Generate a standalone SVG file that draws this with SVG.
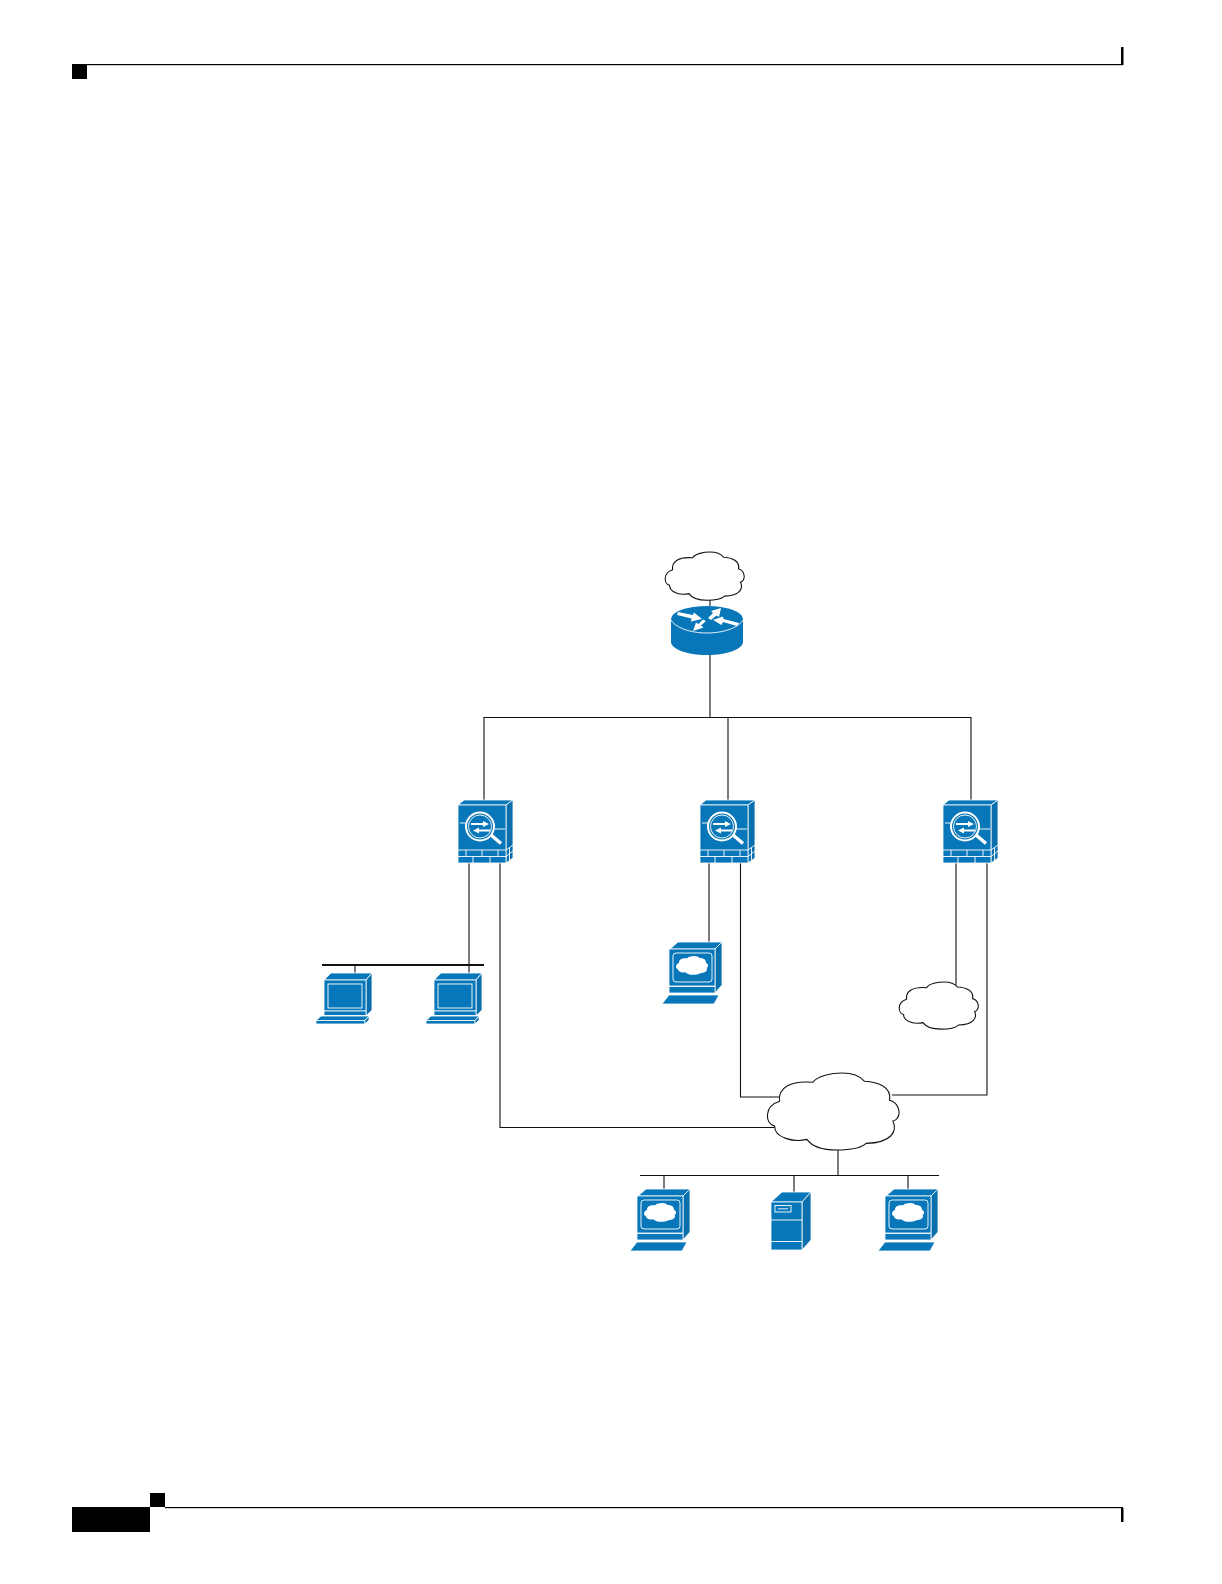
<svg xmlns="http://www.w3.org/2000/svg" xmlns:xlink="http://www.w3.org/1999/xlink" width="1222" height="1584" viewBox="0 0 1222 1584">
<style>
.bg{fill:#fff}
.blk{fill:#000}
.b{fill:#0877b9;stroke:#fff;stroke-width:.8;stroke-linejoin:round}
.d{fill:#0a70ad;stroke:#fff;stroke-width:.8;stroke-linejoin:round}
.w{fill:none;stroke:#fff;stroke-width:.9}
.w2{fill:none;stroke:#fff;stroke-width:2}
.wf{fill:#fff;stroke:none}
.cl{fill:#fff;stroke:#111;stroke-width:1.100}
.cw{fill:#fff;stroke:none}
.ln{fill:none;stroke:#111;stroke-width:1.100}
.ba{fill:none;stroke:#111;stroke-width:2}
</style>
<defs>
<path id="cloud" vector-effect="non-scaling-stroke" d="M38 85C32 45 70 22 138 28C150 8 195 0 225 0C255 0 280 10 293 25C330 27 375 40 368 82C395 88 402 120 392 135C388 142 384 144 378 145C392 175 375 210 298 212C280 228 240 232 210 232C170 232 135 222 120 200C80 210 22 195 23 160C-5 155 -12 100 38 85Z"/>
<g id="firewall">
<path class="b" d="M0 5L6 0H55L48 5Z"/>
<path class="d" d="M48 5L55 0V58L48 63Z"/>
<rect class="b" x="0" y="5" width="48" height="58"/>
<path class="w" d="M0 50H48M0 56.500H48M8 50V56.500M24 50V56.500M40 50V56.500M15 56.500V63M32 56.500V63M48 50L55 45M48 56.500L55 51M51.500 48V54M51.500 54V60"/>
<path class="w" d="M2 23H8M36 29H47"/>
<circle class="w2" cx="22" cy="26.500" r="14"/>
<circle class="w" cx="22" cy="26.500" r="11.500"/>
<path d="M33 35L43 43.500" fill="none" stroke="#fff" stroke-width="3.500"/>
<path class="wf" d="M13 23H25V21L31 24L25 27V25H13ZM32 29.500H21V27.500L15 30.500L21 33.500V31.500H32Z"/>
</g>
<g id="pc">
<path class="b" d="M8 7L15 0H56L50 7Z"/>
<path class="d" d="M50 7L56 0V37L50 43Z"/>
<rect class="b" x="8" y="7" width="42" height="31"/>
<rect class="w" x="12" y="11" width="34" height="24"/>
<rect class="b" x="8" y="38" width="42" height="4.500"/>
<path class="b" d="M0 47.500L5 43H53L49 47.500Z"/>
<path class="b" d="M0 47.500H49V51H0Z"/>
<path class="d" d="M49 47.500L53 43V47L49 51Z"/>
</g>
<g id="terminal">
<path class="b" d="M8 7L16 0H60L53 7Z"/>
<path class="d" d="M53 7L60 0V43L53 51Z"/>
<rect class="b" x="7" y="7" width="46" height="37"/>
<rect class="w" x="11" y="11" width="39" height="29" rx="3"/>
<use xlink:href="#cloud" href="#cloud" class="cw" transform="translate(14 14) scale(0.081)"/>
<rect class="b" x="7" y="44.500" width="46" height="6.500"/>
<path class="b" d="M0 62L7 53H57L52 62Z"/>
</g>
</defs>
<rect class="bg" width="1222" height="1584"/>
<g id="page-frame">
<rect class="blk" x="72" y="64" width="15" height="15"/>
<rect class="blk" x="87" y="64" width="1036" height="1.200"/>
<rect class="blk" x="1121" y="47" width="2.500" height="18"/>
<rect class="blk" x="72" y="1507" width="78" height="25"/>
<rect class="blk" x="150" y="1493" width="15" height="14"/>
<rect class="blk" x="165" y="1507" width="958" height="1.200"/>
<rect class="blk" x="1121" y="1508" width="2.500" height="14"/>
</g>
<g id="connectors">
<path class="ln" d="M710 598V606M710 655V717.500M484 800V717.500H971V800M728 717.500V800"/>
<path class="ln" d="M469 863V973M500 863V1127.500H776M709 863V942M740.500 863V1097H780M956 863V985M987 863V1095H892"/>
<path class="ba" d="M322 965H484"/>
<path class="ln" d="M355 965V973"/>
<path class="ln" d="M838 1149V1175.500M640 1175.500H939M664 1175.500V1189M794 1175.500V1192M908 1175.500V1189"/>
</g>
<g id="cloud-top"><use xlink:href="#cloud" href="#cloud" class="cl" transform="translate(665 552) scale(0.2 0.208)"/></g>
<g id="router" transform="translate(671 606)">
<path d="M0 13V36C0 43 16 49 36 49S72 43 72 36V13Z" fill="#0877b9"/>
<ellipse cx="36" cy="13" rx="36" ry="13" fill="#0877b9"/>
<path class="w" d="M0 14C4 21 18 27 36 27S68 21 72 14"/>
<path class="wf" d="M6 9L7 6L22 9L23 6.500L31 13L20 15.500L20.500 12.500ZM68 17L66 20L52 16L50.500 19L42 14L52 10.500L52.500 13ZM37 12L42 7L40 5L50 2L48 11L45.500 9.500L40 14ZM35 15L30 19.500L32.500 21.500L22 25L25 16.500L27.500 18L32 13.500Z"/>
</g>
<g id="firewall-1"><use xlink:href="#firewall" href="#firewall" x="458" y="800"/></g>
<g id="firewall-2"><use xlink:href="#firewall" href="#firewall" x="700" y="800"/></g>
<g id="firewall-3"><use xlink:href="#firewall" href="#firewall" x="943" y="800"/></g>
<g id="pc-1"><use xlink:href="#pc" href="#pc" x="316" y="973"/></g>
<g id="pc-2"><use xlink:href="#pc" href="#pc" x="426" y="973"/></g>
<g id="terminal-1"><use xlink:href="#terminal" href="#terminal" x="662" y="942"/></g>
<g id="cloud-right"><use xlink:href="#cloud" href="#cloud" class="cl" transform="translate(899 982) scale(0.2 0.203)"/></g>
<g id="cloud-center"><use xlink:href="#cloud" href="#cloud" class="cl" transform="translate(767 1073) scale(0.333 0.332)"/></g>
<g id="terminal-2"><use xlink:href="#terminal" href="#terminal" x="630" y="1189"/></g>
<g id="server" transform="translate(771 1192)">
<path class="b" d="M0 10L11 0H40L31 10Z"/>
<path class="d" d="M31 10L40 0V48L31 58Z"/>
<rect class="b" x="0" y="10" width="31" height="48"/>
<path class="w" d="M0 28H31M0 49.500H31"/>
<rect class="w" x="4" y="13.500" width="16" height="6.500"/>
<path class="w" d="M7 16.800H17"/>
</g>
<g id="terminal-3"><use xlink:href="#terminal" href="#terminal" x="878" y="1189"/></g>
</svg>
